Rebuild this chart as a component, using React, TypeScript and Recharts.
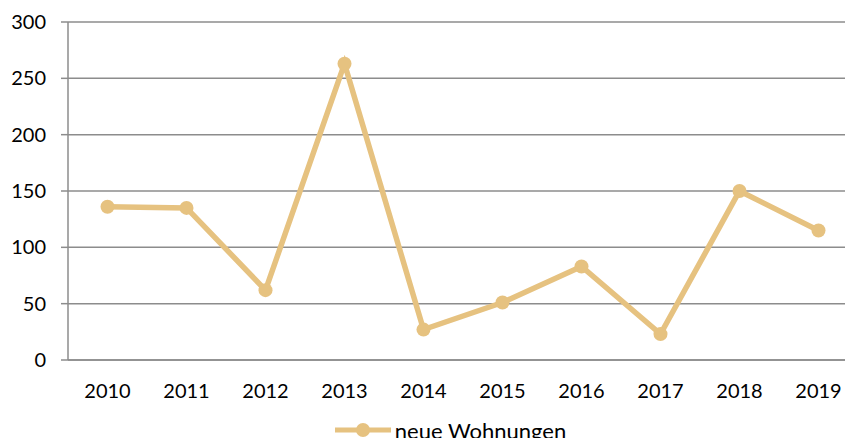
import { LineChart, Line, XAxis, YAxis, CartesianGrid, Legend } from 'recharts'

const years = ['2010', '2011', '2012', '2013', '2014', '2015', '2016', '2017', '2018', '2019']
const newFlats = [136, 135, 62, 263, 27, 51, 83, 23, 150, 115]
const yTicks = [0, 50, 100, 150, 200, 250, 300]
const boundaryTicks = [0, 1, 2, 3, 4, 5, 6, 7, 8, 9, 10]
const seriesName = 'neue Wohnungen'

const LINE_COLOR = '#E6C280'
const GRID_COLOR = '#8C8C8C'
const FONT = 'Lato, "Open Sans", sans-serif'
const FONT_SIZE = 20

const data = years.map((year, i) => ({ x: i + 0.5, year, value: newFlats[i] }))
const labelTicks = years.map((_, i) => i + 0.5)

function LegendContent() {
  return (
    <div
      style={{
        display: 'flex',
        justifyContent: 'center',
        alignItems: 'center',
        height: 28,
        fontFamily: FONT,
        fontSize: 22,
        color: '#000',
      }}
    >
      <svg width={58} height={20} style={{ marginRight: 3 }}>
        <line x1={1} y1={10} x2={57} y2={10} stroke={LINE_COLOR} strokeWidth={5} />
        <circle cx={29} cy={10} r={7} fill={LINE_COLOR} />
      </svg>
      <span>{seriesName}</span>
    </div>
  )
}

export default function App() {
  return (
    <div style={{ margin: -8, width: 853, height: 446, overflow: 'hidden', background: '#fff' }}>
      <LineChart width={900} height={450} data={data} margin={{ top: 22, right: 42, left: 0, bottom: 6 }}>
        <CartesianGrid vertical={false} stroke={GRID_COLOR} strokeWidth={1.5} />
        <YAxis
          domain={[0, 300]}
          ticks={yTicks}
          width={68}
          tickSize={7}
          tickMargin={15}
          stroke={GRID_COLOR}
          strokeWidth={1.5}
          tick={{ fill: '#000', fontSize: FONT_SIZE, fontFamily: FONT }}
        />
        <XAxis
          xAxisId="bounds"
          dataKey="x"
          type="number"
          domain={[0, 10]}
          ticks={boundaryTicks}
          tickSize={7}
          tick={false}
          height={7}
          stroke={GRID_COLOR}
          strokeWidth={1.5}
        />
        <XAxis
          xAxisId="labels"
          dataKey="x"
          type="number"
          domain={[0, 10]}
          ticks={labelTicks}
          tickFormatter={(v: number) => years[Math.round(v - 0.5)]}
          tickLine={false}
          axisLine={false}
          tickSize={0}
          tickMargin={17}
          height={49}
          tick={{ fill: '#000', fontSize: FONT_SIZE, fontFamily: FONT }}
        />
        <Legend
          verticalAlign="bottom"
          content={() => <LegendContent />}
          wrapperStyle={{ left: 0, width: 900 }}
        />
        <Line
          xAxisId="bounds"
          dataKey="value"
          name={seriesName}
          stroke={LINE_COLOR}
          strokeWidth={5.5}
          dot={{ r: 7, fill: LINE_COLOR, stroke: LINE_COLOR, strokeWidth: 0 }}
          activeDot={false}
          isAnimationActive={false}
        />
      </LineChart>
    </div>
  )
}
